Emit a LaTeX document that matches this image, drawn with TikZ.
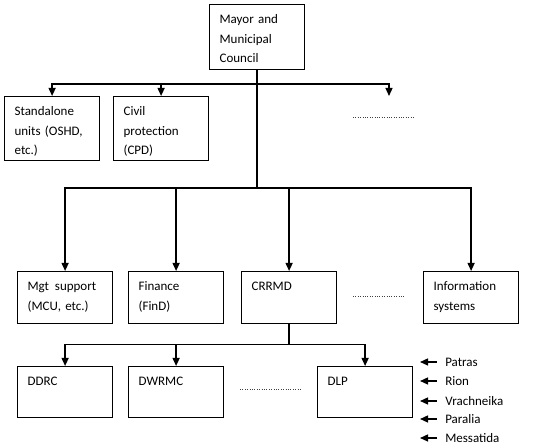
\documentclass[tikz,border=0pt]{standalone}
\usepackage{fontspec}
\setmainfont{Carlito}
\usetikzlibrary{arrows.meta}
\tikzset{
  >={Triangle[length=6pt,width=5.2pt]},
  unit/.style={draw=black,line width=0.9pt,anchor=north west,align=left,
    text width=56.25pt,inner xsep=7.5pt,inner ysep=0pt,
    text height=14.25pt,text depth=#1,
    font=\fontsize{9.75pt}{14.6pt}\selectfont},
  unit/.default=24.4pt,
  link/.style={line width=1.2pt},
  branch/.style={->,line width=1.1pt},
  gap/.style={line width=0.7pt,dash pattern=on 0.5pt off 1.3pt,black!75},
  place/.style={anchor=west,inner xsep=6pt,inner ysep=0pt,text height=6.3pt,
    text depth=0pt,font=\fontsize{9.75pt}{12pt}\selectfont},
}
\begin{document}
\begin{tikzpicture}[x=0.75pt,y=-0.75pt]
  \useasboundingbox (0,0) rectangle (550,448);
  \node[unit=34.2pt] (mayor) at (209,4) {Mayor and\\Municipal\\Council};
  % first level
  \node[unit=33.7pt] (oshd) at (4,96) {Standalone\\units (OSHD,\\etc.)};
  \node[unit=33.7pt] (cpd) at (113,96) {Civil\\protection\\(CPD)};
  \coordinate (more1) at (389,96);
  \path (mayor.south) ++(0,14) coordinate (hub1);
  \path (mayor.south) ++(0,118) coordinate (hub2);
  \draw[link] (mayor.south) -- (hub2);
  \foreach \n in {oshd.north,cpd.north,more1}
    \draw[branch] (hub1) -| (\n);
  \draw[gap] (353,117) -- (415,117);
  % second level
  \node[unit] (mgt) at (17,271) {Mgt\kern1.2pt\ support\\(MCU, etc.)};
  \node[unit] (find) at (128,271) {Finance\\(FinD)};
  \node[unit] (crrmd) at (241,271) {CRRMD};
  \node[unit] (info) at (423,271) {Information\\systems};
  \foreach \n in {mgt,find,crrmd,info}
    \draw[branch] (hub2) -| (\n.north);
  \draw[gap] (353,296) -- (405,296);
  % third level
  \node[unit=24pt] (ddrc) at (17,366) {DDRC};
  \node[unit=24pt] (dwrmc) at (128,366) {DWRMC};
  \node[unit=24pt] (dlp) at (317,366) {DLP};
  \path (crrmd.south) ++(0,21) coordinate (hub3);
  \draw[link] (crrmd.south) -- (hub3);
  \foreach \n in {ddrc,dwrmc,dlp}
    \draw[branch] (hub3) -| (\n.north);
  \draw[gap] (240,389) -- (302,389);
  % localities
  \foreach \y/\t in {362/Patras,381/Rion,401/Vrachneika,419/Paralia,438/Messatida}{
    \node[place] (p\y) at (437,\y) {\t};
    \coordinate (q\y) at (420,\y);
    \draw[branch] (p\y.west) -- (q\y);
  }
\end{tikzpicture}
\end{document}
